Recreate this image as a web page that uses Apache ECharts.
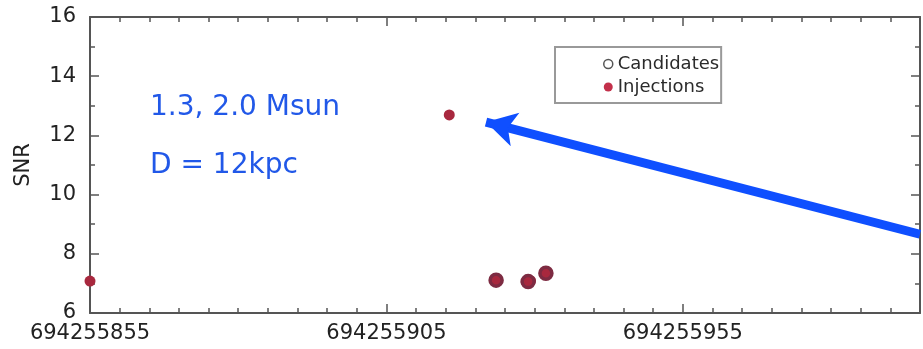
<!DOCTYPE html>
<html>
<head>
<meta charset="utf-8">
<script src="https://cdn.jsdelivr.net/npm/echarts@6/dist/echarts.min.js"></script>
<style>
    html, body { margin: 0; padding: 0; background: #fff; }
    #chart { width: 923px; height: 349px; }
</style>
</head>
<body>
<div id="chart"></div>
<script>
/**
 * 数据
 */
var xTicks = [694255855, 694255905, 694255955];
var yTicks = [6, 8, 10, 12, 14, 16];
var candidatesX = [694255923.5, 694255928.9, 694255931.9];
var candidatesY = [7.11, 7.06, 7.34];
var injectionsX = [694255855, 694255915.6, 694255923.5, 694255928.6, 694255929.3, 694255931.9];
var injectionsY = [7.08, 12.69, 7.11, 7.04, 7.09, 7.34];
var arrowFrom = [694255995, 8.66];
var arrowTo = [694255921.8, 12.45];
var noteLines = ['1.3, 2.0 Msun', 'D = 12kpc'];

function zip(xs, ys) {
    var out = [];
    for (var i = 0; i < xs.length; i++) {
        out.push([xs[i], ys[i]]);
    }
    return out;
}

var chart = echarts.init(document.getElementById('chart'));
var axisColor = '#555';
var labelFont = 'DejaVu Sans';

var option = {
    animation: false,
    grid: {left: 90, right: 3, top: 17, bottom: 36},
    legend: {
        orient: 'vertical',
        left: 555,
        top: 47,
        padding: [8, 2, 7, 48],
        itemGap: 5,
        itemWidth: 9,
        itemHeight: 9,
        borderColor: '#999',
        borderWidth: 2,
        textStyle: {fontFamily: labelFont, fontSize: 18, color: '#2a2a2a'},
        data: [
            {name: 'Candidates', icon: 'circle', itemStyle: {color: '#fff', borderColor: '#555', borderWidth: 1.5}},
            {name: 'Injections', icon: 'circle', itemStyle: {color: '#c3304a'}}
        ]
    },
    xAxis: [{
        type: 'value',
        min: xTicks[0],
        max: 694255995,
        interval: xTicks[1] - xTicks[0],
        axisLine: {show: true, lineStyle: {color: axisColor, width: 2}},
        axisTick: {show: true, inside: true, length: 9, lineStyle: {color: axisColor, width: 1.5}},
        minorTick: {show: true, splitNumber: 10, length: 5, lineStyle: {color: axisColor, width: 1.5}},
        splitLine: {show: false},
        axisLabel: {
            margin: 10,
            showMaxLabel: false,
            fontFamily: labelFont,
            fontSize: 21,
            color: '#222',
            formatter: function (v) { return String(Math.round(v)); }
        }
    }, {
        type: 'value',
        position: 'top',
        min: xTicks[0],
        max: 694255995,
        interval: xTicks[1] - xTicks[0],
        axisLine: {show: true, lineStyle: {color: axisColor, width: 2}},
        axisTick: {show: true, inside: true, length: 9, lineStyle: {color: axisColor, width: 1.5}},
        minorTick: {show: true, splitNumber: 10, length: 5, lineStyle: {color: axisColor, width: 1.5}},
        splitLine: {show: false},
        axisLabel: {show: false}
    }],
    yAxis: [{
        type: 'value',
        name: 'SNR',
        nameLocation: 'middle',
        nameGap: 56,
        nameTextStyle: {fontFamily: labelFont, fontSize: 21, color: '#222'},
        min: yTicks[0],
        max: yTicks[yTicks.length - 1],
        interval: yTicks[1] - yTicks[0],
        axisLine: {show: true, lineStyle: {color: axisColor, width: 2}},
        axisTick: {show: true, inside: true, length: 9, lineStyle: {color: axisColor, width: 1.5}},
        minorTick: {show: true, splitNumber: 2, length: 5, lineStyle: {color: axisColor, width: 1.5}},
        splitLine: {show: false},
        axisLabel: {margin: 14, fontFamily: labelFont, fontSize: 21, color: '#222'}
    }, {
        type: 'value',
        position: 'right',
        min: yTicks[0],
        max: yTicks[yTicks.length - 1],
        interval: yTicks[1] - yTicks[0],
        axisLine: {show: true, lineStyle: {color: axisColor, width: 2}},
        axisTick: {show: true, inside: true, length: 9, lineStyle: {color: axisColor, width: 1.5}},
        minorTick: {show: true, splitNumber: 2, length: 5, lineStyle: {color: axisColor, width: 1.5}},
        splitLine: {show: false},
        axisLabel: {show: false}
    }],
    series: [{
        name: 'Injections',
        type: 'scatter',
        clip: false,
        symbol: 'circle',
        symbolSize: 11,
        itemStyle: {color: '#a8283e', opacity: 1},
        data: zip(injectionsX, injectionsY),
        markLine: {
            silent: true,
            symbol: ['none', 'arrow'],
            symbolSize: [26, 30],
            label: {show: false},
            lineStyle: {color: '#0f4fff', width: 9, type: 'solid', opacity: 1},
            emphasis: {disabled: true},
            data: [[{coord: arrowFrom}, {coord: arrowTo}]]
        }
    }, {
        name: 'Candidates',
        type: 'scatter',
        clip: false,
        symbol: 'circle',
        symbolSize: 12,
        itemStyle: {color: 'rgba(0,0,0,0)', borderColor: '#7d2b42', borderWidth: 3.5, opacity: 1},
        data: zip(candidatesX, candidatesY)
    }],
    graphic: [{
        type: 'text',
        left: 150,
        top: 94,
        style: {text: noteLines[0], fill: '#2158e8', font: '28px "DejaVu Sans"'}
    }, {
        type: 'text',
        left: 150,
        top: 152,
        style: {text: noteLines[1], fill: '#2158e8', font: '28px "DejaVu Sans"'}
    }]
};
chart.setOption(option);
</script>
</body>
</html>
